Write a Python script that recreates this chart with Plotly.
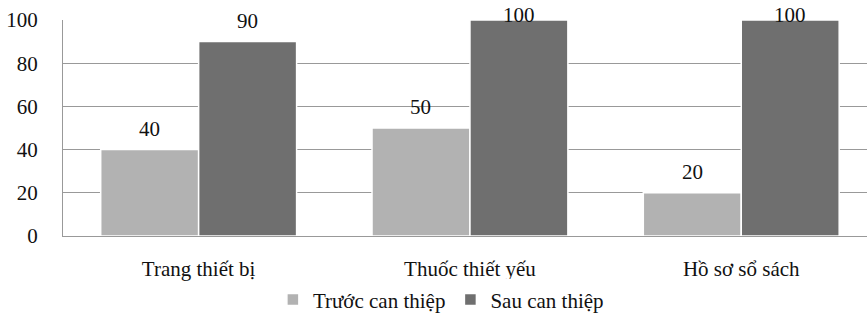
import plotly.graph_objects as go

categories = ["Trang thiết bị", "Thuốc thiết yếu", "Hồ sơ sổ sách"]
series_names = ["Trước can thiệp", "Sau can thiệp"]
truoc = [40, 50, 20]
sau = [90, 100, 100]
y_ticks = [0, 20, 40, 60, 80, 100]

W, H = 867, 323
ML, MR, MT, MB = 63, 0, 20, 87
plot_h = H - MT - MB
cat_px = 271.3
x_hi = (W - ML - MR) / cat_px - 0.5

FONT = "Times New Roman, Liberation Serif, serif"
colors = ["#b2b2b2", "#6f6f6f"]

fig = go.Figure()
for name, vals, col in zip(series_names, [truoc, sau], colors):
    fig.add_trace(go.Bar(
        x=categories, y=vals, name=name,
        marker=dict(color=col, line=dict(color="white", width=1.5)),
    ))

annotations = []
for vals, shift in [(truoc, -49), (sau, 49)]:
    for c, v in zip(categories, vals):
        top_px = MT + (100 - v) / 100 * plot_h
        ysh = min(21, top_px - 14.5)
        annotations.append(dict(
            x=c, y=v, xref="x", yref="y", text=str(v), showarrow=False,
            xshift=shift, yshift=ysh, yanchor="middle",
            font=dict(family=FONT, size=21, color="#111"),
        ))

fig.update_layout(
    width=W, height=H,
    margin=dict(l=ML, r=MR, t=MT, b=MB),
    paper_bgcolor="white", plot_bgcolor="white",
    barmode="group", bargap=0.278, bargroupgap=0,
    font=dict(family=FONT, size=21, color="#111"),
    showlegend=True,
    legend=dict(orientation="h", x=0.47, xanchor="center", y=-0.296, yanchor="middle",
                font=dict(family=FONT, size=21, color="#111"), itemwidth=30,
                traceorder="normal"),
    annotations=annotations,
    xaxis=dict(range=[-0.5, x_hi], showgrid=False, showline=True, linecolor="#999",
               linewidth=1, ticks="", ticklabelstandoff=14,
               tickfont=dict(family=FONT, size=21, color="#111")),
    yaxis=dict(range=[0, 100], tickvals=y_ticks, showgrid=True, gridcolor="#999",
               gridwidth=1, showline=True, linecolor="#999", linewidth=1,
               zeroline=False, ticks="", ticklabelstandoff=20,
               tickfont=dict(family=FONT, size=21, color="#111")),
)

fig.write_html("out.html")
